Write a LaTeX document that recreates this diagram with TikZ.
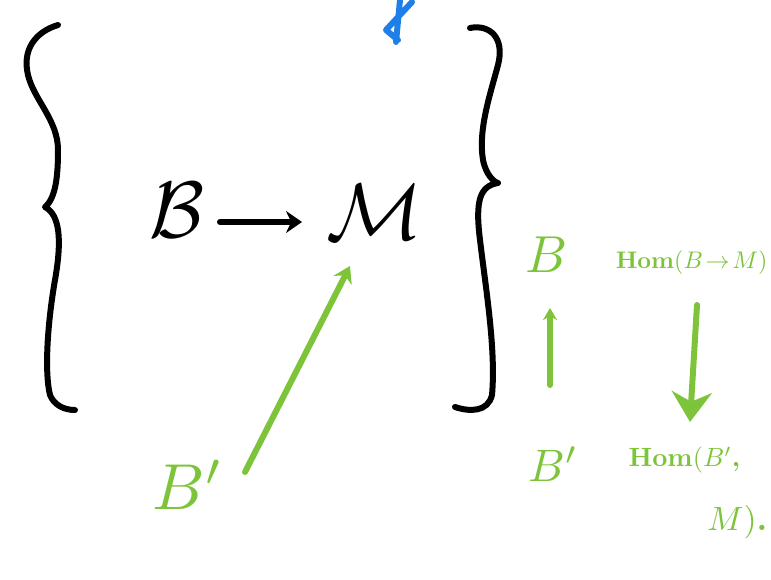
\documentclass[tikz,border=0pt]{standalone}
\usepackage{tikz}
\usetikzlibrary{positioning,arrows.meta}
\definecolor{inkblack}{HTML}{000000}
\definecolor{inkgreen}{HTML}{7DC43A}
\definecolor{inkblue}{HTML}{1E7FE8}

\begin{document}
\begin{tikzpicture}[
  x=1pt, y=-1pt,
  pen/.style={line width=6pt, line cap=round, line join=round},
  bigsym/.style={inner sep=0pt, scale=8, transform shape},
  grsym/.style={inner sep=0pt, text=inkgreen, scale=6.5, transform shape},
  grtext/.style={inner sep=0pt, text=inkgreen, font=\bfseries, scale=2.4, transform shape},
  ]
  \useasboundingbox (0,0) rectangle (771,580);
  % braces
  \draw[pen, inkblack] (58,25) .. controls (35,32) and (22,50) .. (28,75)
    .. controls (34,100) and (58,120) .. (58,150)
    .. controls (58,175) and (56,198) .. (45,207)
    .. controls (60,215) and (62,240) .. (55,280)
    .. controls (48,320) and (44,370) .. (50,395)
    .. controls (54,405) and (64,410) .. (75,410);
  \draw[pen, inkblack] (470,28) .. controls (490,24) and (505,38) .. (498,65)
    .. controls (490,95) and (478,130) .. (483,160)
    .. controls (486,175) and (494,182) .. (498,183)
    .. controls (480,186) and (475,200) .. (480,240)
    .. controls (486,290) and (496,350) .. (492,395)
    .. controls (488,412) and (470,412) .. (455,407);
  % black part
  \node[bigsym] (b) at (177,210) {$\mathcal{B}$};
  \node[bigsym] (m) at (375,212) {$\mathcal{M}$};
  \draw[pen, inkblack, -{Stealth[length=16pt, width=22pt]}] (220,222) -- (302,222);
  % blue mark
  \draw[pen, inkblue] (400,0) -- (396,42) (412,2) -- (386,30) -- (398,40);
  % green part
  \node[grsym] (bp) at (188,485) {$B'$};
  \draw[pen, inkgreen, -{Stealth[length=16pt, width=20pt]}] (245,472) -- (350,266);
  \node[grsym, scale=0.8] (b2) at (547,255) {$B$};
  \node[grsym, scale=0.7] (bp2) at (553,464) {$B'$};
  \draw[pen, inkgreen, -{Stealth[length=12pt, width=14pt]}] (550,385) -- (550,308);
  \node[grtext, anchor=east] (hom1) at (768,262) {Hom$(B\!\to\! M)$};
  \node[grtext, anchor=west, scale=1.1] (hom2) at (628,460) {Hom$(B'$,};
  \node[grtext, anchor=east, scale=1.4] (m2) at (768,522) {$M)$.};
  \draw[pen, inkgreen, -{Stealth[length=30pt, width=40pt]}] (697,305) -- (690,422);
\end{tikzpicture}
\end{document}
